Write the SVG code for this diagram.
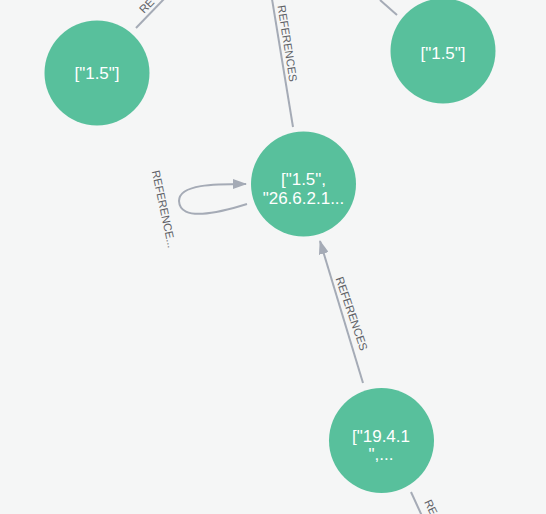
<svg xmlns="http://www.w3.org/2000/svg" width="546" height="514" viewBox="0 0 546 514">
<style>
.edge{fill:none;stroke:#a5abb6;stroke-width:2}
.elbl{font-family:"Liberation Sans",Arial,sans-serif;font-size:11.3px;fill:#5e6166}
.node circle{fill:#58c09c}
.node text{font-family:"Liberation Sans",Arial,sans-serif;font-size:17px;fill:#ffffff;text-anchor:middle}
</style>
<defs>
<marker id="arr" viewBox="0 0 14 10" refX="13" refY="5" markerWidth="14" markerHeight="10" markerUnits="userSpaceOnUse" orient="auto">
<path d="M0,0 L14,5 L0,10 Z" fill="#a5abb6"/>
</marker>
</defs>
<rect width="546" height="514" fill="#f5f6f6"/>
<g id="connectors">
<line class="edge" x1="136" y1="28" x2="164" y2="-1"/>
<text class="elbl" transform="translate(144,14) rotate(-46)">RE</text>
<line class="edge" x1="272" y1="-1" x2="293" y2="127"/>
<text class="elbl" text-anchor="middle" transform="translate(283.5,44) rotate(81)">REFERENCES</text>
<line class="edge" x1="380" y1="0" x2="397" y2="15"/>
<line class="edge" x1="363" y1="383" x2="320" y2="241" marker-end="url(#arr)"/>
<text class="elbl" text-anchor="middle" transform="translate(348,315) rotate(71)">REFERENCES</text>
<path class="edge" d="M247,204 C218,213 180,222 179,201 C179,184 215,184 246,184" marker-end="url(#arr)"/>
<text class="elbl" text-anchor="middle" transform="translate(160,210) rotate(78)">REFERENCE...</text>
<line class="edge" x1="411" y1="492" x2="422" y2="516"/>
<text class="elbl" transform="translate(424,502) rotate(64)">RE</text>
</g>
<g id="n1" class="node"><circle cx="97" cy="73" r="52.5"/><text x="97" y="79">["1.5"]</text></g>
<g id="n2" class="node"><circle cx="443" cy="51" r="52.5"/><text x="443" y="59">["1.5"]</text></g>
<g id="n3" class="node"><circle cx="303.5" cy="184" r="52.5"/><text x="303.5" y="185">["1.5",</text><text x="303.5" y="203.5">"26.6.2.1...</text></g>
<g id="n4" class="node"><circle cx="381.5" cy="440.5" r="52.5"/><text x="381" y="441.5">["19.4.1</text><text x="381" y="459.5">",...</text></g>
</svg>
